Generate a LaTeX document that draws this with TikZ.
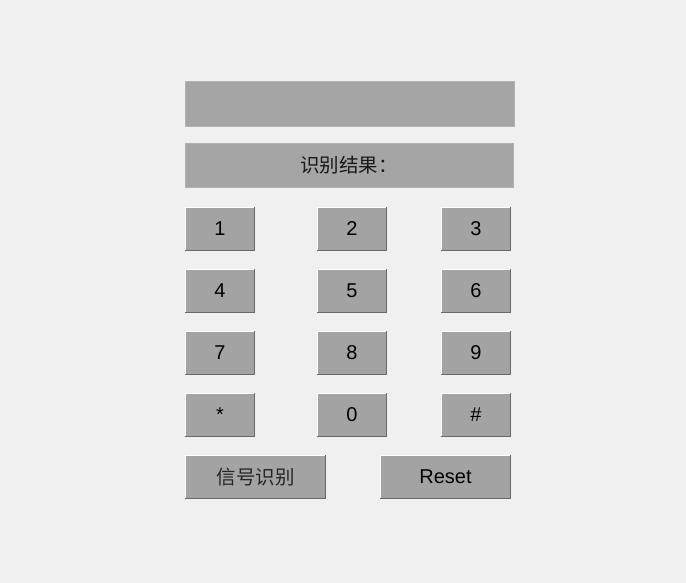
\documentclass[tikz,border=0pt]{standalone}
\usepackage{fontspec}
\setmainfont{Liberation Sans}
\newfontfamily\cjk{Noto Sans CJK SC}
\definecolor{bg}{RGB}{240,240,240}
\definecolor{panel}{RGB}{165,165,165}
\definecolor{panelrim}{RGB}{176,176,184}
\definecolor{keyfill}{RGB}{163,163,163}
\definecolor{keyshade}{RGB}{105,105,105}
\tikzset{
  keybtn/.style={fill=keyfill,minimum width=70pt,minimum height=44pt,inner sep=0pt,font=\fontsize{20}{20}\selectfont},
  panelbox/.style={fill=panel,draw=panelrim,line width=0.8pt,inner sep=0pt}
}

\begin{document}
\begin{tikzpicture}[x=1pt,y=-1pt]
% Background
\fill[bg] (0,0) rectangle (686,583);
\useasboundingbox (0,0) rectangle (686,583);
% Panels
\node[panelbox,minimum width=329pt,minimum height=45pt] (display) at (349.5,103.5) {};
\node[panelbox,minimum width=328pt,minimum height=44pt] (result) at (349,165) {\cjk\fontsize{19.5}{20}\selectfont\color{black!90} 识别结果：};
% Keys
\node[keybtn] (k1) at (220,229) {1};
\node[keybtn] (k2) at (352,229) {2};
\node[keybtn] (k3) at (476,229) {3};
\node[keybtn] (k4) at (220,291) {4};
\node[keybtn] (k5) at (352,291) {5};
\node[keybtn] (k6) at (476,291) {6};
\node[keybtn] (k7) at (220,353) {7};
\node[keybtn] (k8) at (352,353) {8};
\node[keybtn] (k9) at (476,353) {9};
\node[keybtn] (kstar) at (220,415) {*};
\node[keybtn] (k0) at (352,415) {0};
\node[keybtn] (khash) at (476,415) {\#};
% Commands
\node[keybtn,minimum width=141pt] (detect) at (255.5,477) {\cjk\fontsize{19.5}{20}\selectfont\color{black!85} 信号识别};
\node[keybtn,minimum width=131pt] (reset) at (445.5,477) {Reset};
% Bevels
\foreach \b in {k1,k2,k3,k4,k5,k6,k7,k8,k9,kstar,k0,khash,detect,reset}{
  \draw[white,line width=1.2pt] ([xshift=0.6pt,yshift=0.6pt]\b.south west) |- ([xshift=-0.6pt,yshift=-0.6pt]\b.north east);
  \draw[keyshade,line width=1.2pt] ([xshift=0.6pt,yshift=0.6pt]\b.south west) -| ([xshift=-0.6pt,yshift=-0.6pt]\b.north east);
}
\end{tikzpicture}
\end{document}
